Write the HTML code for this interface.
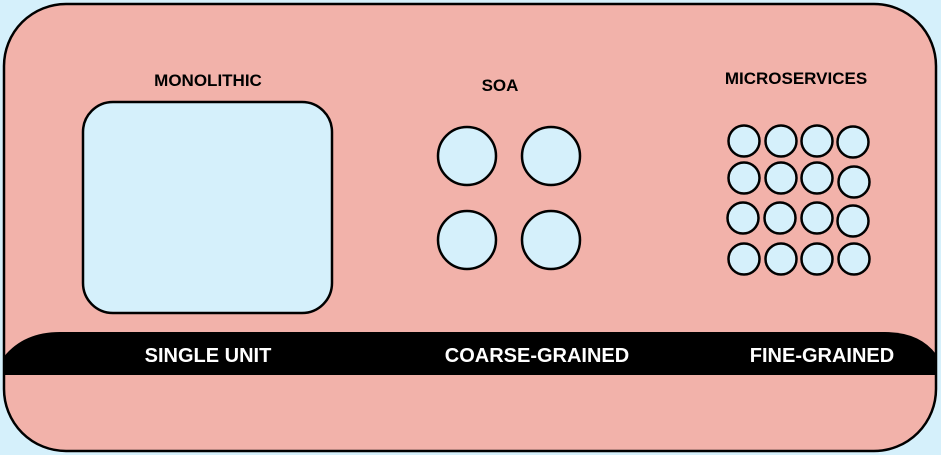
<!DOCTYPE html>
<html><head><style>
html,body{margin:0;padding:0;background:#d5f0fb;}
svg{display:block;}
text{font-family:"Liberation Sans",sans-serif;font-weight:bold;}
</style></head><body>
<svg width="941" height="455" viewBox="0 0 941 455" xmlns="http://www.w3.org/2000/svg">
<rect x="0" y="0" width="941" height="455" fill="#d5f0fb"/>
<defs><clipPath id="c"><rect x="4" y="4" width="932" height="447" rx="62" ry="62"/></clipPath></defs>
<rect x="4" y="4" width="932" height="447" rx="62" ry="62" fill="#f2b2aa"/>
<g clip-path="url(#c)">
<path d="M0 375 L0 362 Q20 332 60 332 L885 332 Q925 332 941 362 L941 375 Z" fill="#000"/>
</g>
<rect x="4" y="4" width="932" height="447" rx="62" ry="62" fill="none" stroke="#000" stroke-width="2.5"/>
<rect x="83" y="102" width="249" height="211" rx="30" ry="30" fill="#d5f0fb" stroke="#000" stroke-width="2.5"/>
<g fill="#d5f0fb" stroke="#000" stroke-width="2.5">
<circle cx="467" cy="156" r="29"/><circle cx="551" cy="156" r="29"/>
<circle cx="467" cy="240" r="29"/><circle cx="551" cy="240" r="29"/>
</g>
<g fill="#d5f0fb" stroke="#000" stroke-width="2.5">
<circle cx="744" cy="141" r="15.5"/><circle cx="781" cy="141" r="15.5"/><circle cx="817" cy="141" r="15.5"/><circle cx="853" cy="142" r="15.5"/>
<circle cx="744" cy="178" r="15.5"/><circle cx="781" cy="178" r="15.5"/><circle cx="817" cy="178" r="15.5"/><circle cx="854" cy="182" r="15.5"/>
<circle cx="743" cy="218" r="15.5"/><circle cx="780" cy="218" r="15.5"/><circle cx="817" cy="218" r="15.5"/><circle cx="853" cy="221" r="15.5"/>
<circle cx="744" cy="259" r="15.5"/><circle cx="781" cy="259" r="15.5"/><circle cx="817" cy="259" r="15.5"/><circle cx="854" cy="259" r="15.5"/>
</g>
<text x="208" y="86" font-size="17" text-anchor="middle" fill="#000">MONOLITHIC</text>
<text x="500" y="91" font-size="17" text-anchor="middle" fill="#000">SOA</text>
<text x="796" y="84" font-size="17" text-anchor="middle" fill="#000">MICROSERVICES</text>
<text x="208" y="362" font-size="20" text-anchor="middle" fill="#fff">SINGLE UNIT</text>
<text x="537" y="362" font-size="20" text-anchor="middle" fill="#fff">COARSE-GRAINED</text>
<text x="822" y="362" font-size="20" text-anchor="middle" fill="#fff">FINE-GRAINED</text>
</svg>
</body></html>
